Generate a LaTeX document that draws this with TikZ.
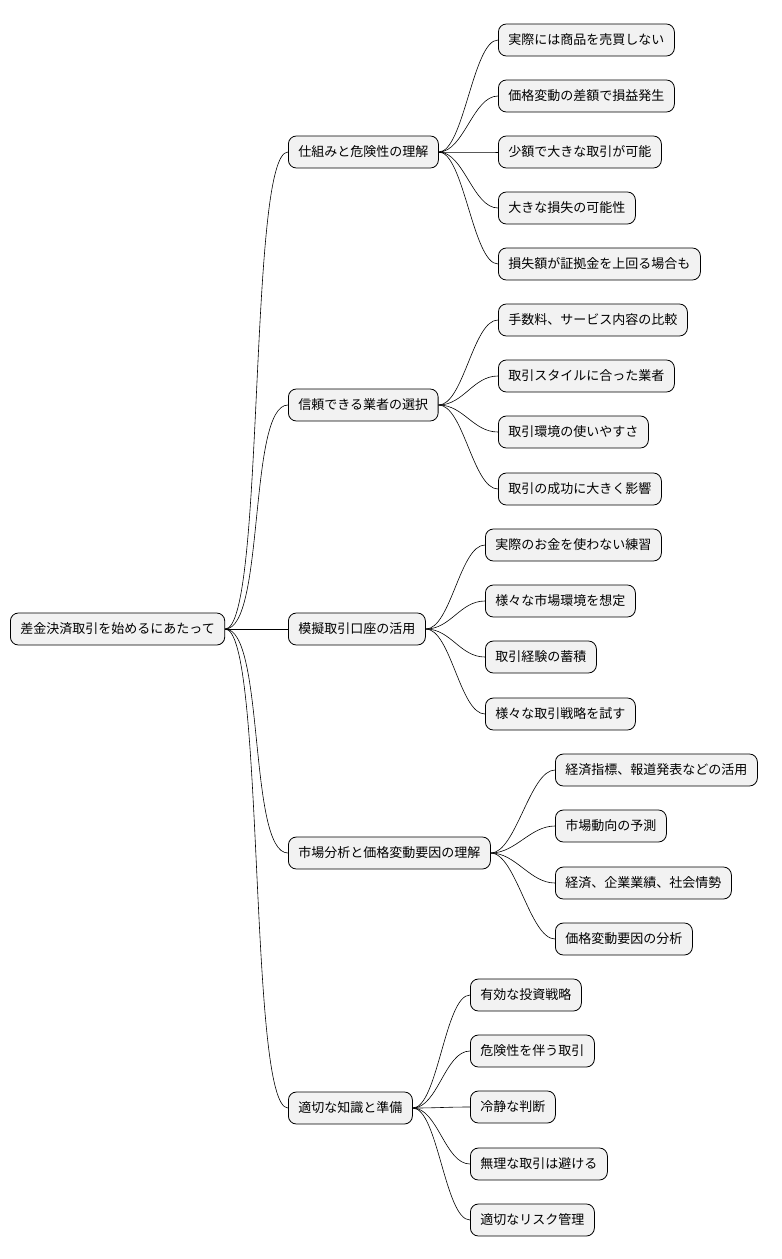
\documentclass[tikz,border=0pt]{standalone}
\usepackage{fontspec}
\setmainfont{Noto Sans CJK JP}
\begin{document}
\begin{tikzpicture}[x=1pt,y=-1pt,
  topic/.style={draw=black,fill=black!5,rounded corners=8pt,anchor=west,
    minimum height=32pt,inner xsep=10pt,font=\fontsize{13}{15}\selectfont,line width=0.8pt},
  link/.style={line width=0.6pt}]

\useasboundingbox (0,0) rectangle (782,1259);

\node[topic] (root) at (10,629) {差金決済取引を始めるにあたって};

\node[topic] (a) at (288,152) {仕組みと危険性の理解};
\node[topic] (b) at (288,405) {信頼できる業者の選択};
\node[topic] (c) at (288,629) {模擬取引口座の活用};
\node[topic] (d) at (288,853) {市場分析と価格変動要因の理解};
\node[topic] (e) at (288,1108) {適切な知識と準備};

\foreach \p in {a,b,c,d,e}{%
  \draw[link] (root.east) .. controls +(40,0) and +(-40,0) .. (\p.west);
}

\foreach \t [count=\i] in {実際には商品を売買しない,価格変動の差額で損益発生,少額で大きな取引が可能,大きな損失の可能性,損失額が証拠金を上回る場合も}{%
  \node[topic] (a\i) at (498,{40+56*(\i-1)}) {\t};
  \draw[link] (a.east) .. controls +(25,0) and +(-25,0) .. (a\i.west);
}

\foreach \t/\y [count=\i] in {手数料、サービス内容の比較/320,取引スタイルに合った業者/376,取引環境の使いやすさ/432,取引の成功に大きく影響/489}{%
  \node[topic] (b\i) at (498,\y) {\t};
  \draw[link] (b.east) .. controls +(25,0) and +(-25,0) .. (b\i.west);
}

\foreach \t/\y [count=\i] in {実際のお金を使わない練習/545,様々な市場環境を想定/601,取引経験の蓄積/657,様々な取引戦略を試す/714}{%
  \node[topic] (c\i) at (485,\y) {\t};
  \draw[link] (c.east) .. controls +(25,0) and +(-25,0) .. (c\i.west);
}

\foreach \t/\y [count=\i] in {経済指標、報道発表などの活用/770,市場動向の予測/826,経済、企業業績、社会情勢/883,価格変動要因の分析/939}{%
  \node[topic] (d\i) at (555,\y) {\t};
  \draw[link] (d.east) .. controls +(25,0) and +(-25,0) .. (d\i.west);
}

\foreach \t/\y [count=\i] in {有効な投資戦略/995,危険性を伴う取引/1051,冷静な判断/1107,無理な取引は避ける/1164,適切なリスク管理/1220}{%
  \node[topic] (e\i) at (470,\y) {\t};
  \draw[link] (e.east) .. controls +(25,0) and +(-25,0) .. (e\i.west);
}

\end{tikzpicture}
\end{document}
